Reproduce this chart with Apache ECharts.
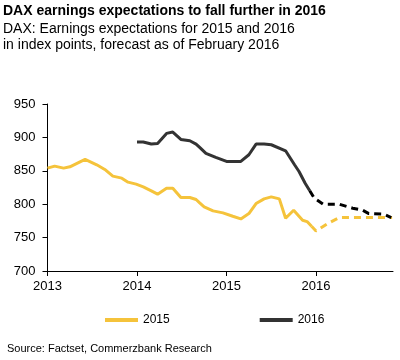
<!DOCTYPE html>
<html><head><meta charset="utf-8">
<script src="https://cdn.jsdelivr.net/npm/echarts@6/dist/echarts.min.js"></script>
<style>html,body{margin:0;padding:0;background:#fff}#c{width:400px;height:360px}</style>
</head><body><div id="c"></div>
<script>
const titleText = 'DAX earnings expectations to fall further in 2016';
const subtitleText = 'DAX: Earnings expectations for 2015 and 2016\nin index points, forecast as of February 2016';
const sourceText = 'Source: Factset, Commerzbank Research';
const yTicks = [700, 750, 800, 850, 900, 950];
const xTicks = [2013, 2014, 2015, 2016];
// x = decimal year, y = index points
const e2015Actual = [[2013.00,854],[2013.08,857],[2013.18,854],[2013.25,856],[2013.42,867],[2013.55,859],[2013.64,852],[2013.73,842],[2013.83,839],[2013.90,833],[2013.99,830],[2014.07,826],[2014.16,820],[2014.23,815],[2014.33,824],[2014.40,824],[2014.49,810],[2014.59,810],[2014.66,807],[2014.70,802],[2014.75,796],[2014.85,790],[2014.96,787],[2015.07,782],[2015.16,778],[2015.25,786],[2015.33,801],[2015.42,808],[2015.50,811],[2015.59,808],[2015.66,779],[2015.75,791],[2015.81,782],[2015.85,776],[2015.90,774],[2015.95,767]];
const e2015Forecast = [[2015.95,767],[2016.00,760],[2016.13,771],[2016.26,780],[2016.50,780],[2016.85,780]];
const e2016Actual = [[2014.00,893],[2014.07,893],[2014.16,890],[2014.23,891],[2014.33,906],[2014.40,908],[2014.49,897],[2014.59,895],[2014.66,890],[2014.70,885],[2014.77,876],[2014.88,870],[2015.00,864],[2015.16,864],[2015.25,874],[2015.33,890],[2015.42,890],[2015.50,889],[2015.66,880],[2015.76,859],[2015.81,849],[2015.88,831],[2015.93,820]];
const e2016Forecast = [[2015.93,820],[2015.98,809],[2016.08,800],[2016.26,800],[2016.41,794],[2016.52,791],[2016.59,786],[2016.76,785],[2016.84,780]];

const YEL = '#F5C33B', BLK = '#333333';
const chart = echarts.init(document.getElementById('c'), null, {renderer:'canvas'});
const font = 'Liberation Sans, Arial, sans-serif';
chart.setOption({
  animation:false,
  textStyle:{fontFamily:font},
  title:[
    {text:titleText, left:3, top:4, padding:0, textStyle:{fontFamily:font,fontSize:14,fontWeight:'bold',color:'#000'}},
    {text:subtitleText, left:3, top:21, padding:0, textStyle:{fontFamily:font,fontSize:14,fontWeight:'normal',color:'#000',lineHeight:16}},
    {text:sourceText, left:7, top:343, padding:0, textStyle:{fontFamily:font,fontSize:11,fontWeight:'normal',color:'#000'}}
  ],
  legend:{data:['2015','2016'], left:100, top:309, itemGap:90, itemWidth:33, itemHeight:4, icon:'rect',
    textStyle:{fontFamily:font,fontSize:12,color:'#000'}},
  grid:{left:47.5, right:7, top:104, bottom:89, containLabel:false},
  xAxis:{type:'value', min:2013, max:2016.86, interval:1,
    axisLine:{lineStyle:{color:'#000',width:1}}, axisTick:{show:true,length:5,inside:false,lineStyle:{color:'#000'}},
    splitLine:{show:false},
    axisLabel:{color:'#000',fontSize:13,fontFamily:font,margin:9,showMaxLabel:false,formatter:v=>xTicks.includes(v)?String(v):''}},
  yAxis:{type:'value', min:yTicks[0], max:yTicks[yTicks.length-1], interval:50,
    axisLine:{show:true,lineStyle:{color:'#000',width:1}}, axisTick:{show:true,length:5,lineStyle:{color:'#000'}},
    splitLine:{show:false},
    axisLabel:{color:'#000',fontSize:13,fontFamily:font,margin:12}},
  series:[
    {name:'2015', type:'line', data:e2015Actual, showSymbol:false, symbol:'none', itemStyle:{color:YEL}, lineStyle:{color:YEL,width:3}, z:3},
    {name:'2015', type:'line', data:e2015Forecast, showSymbol:false, symbol:'none', itemStyle:{color:YEL}, lineStyle:{color:YEL,width:3,type:[7,5]}, z:3},
    {name:'2016', type:'line', data:e2016Actual, showSymbol:false, symbol:'none', itemStyle:{color:BLK}, lineStyle:{color:BLK,width:3}, z:4},
    {name:'2016', type:'line', data:e2016Forecast, showSymbol:false, symbol:'none', itemStyle:{color:'#000'}, lineStyle:{color:'#000',width:3,type:[7,5]}, z:4}
  ]
});
</script></body></html>
